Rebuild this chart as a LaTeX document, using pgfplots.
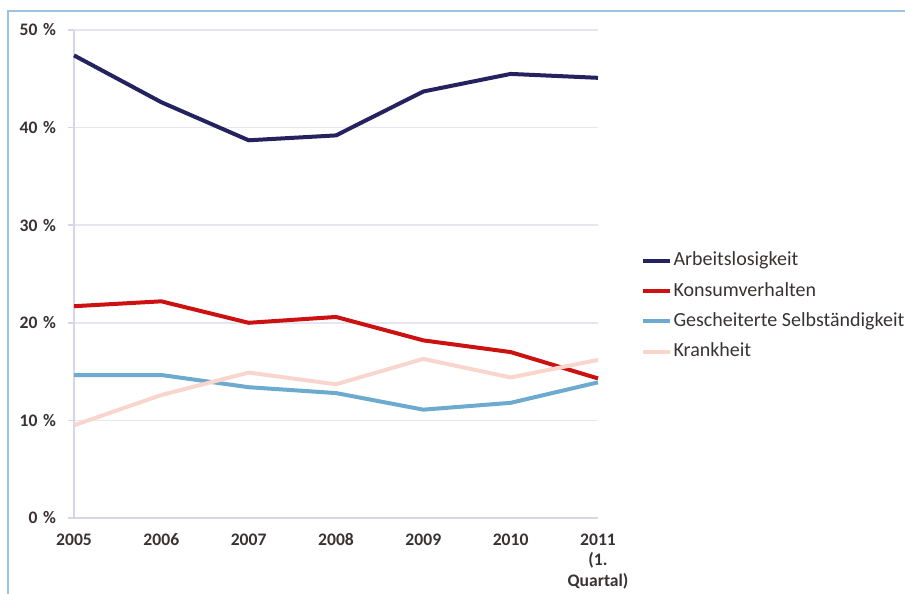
\documentclass[border=0pt]{standalone}
\usepackage{fontspec}
\setmainfont{Carlito}
\usepackage{pgfplots}
\pgfplotsset{compat=1.18}
\definecolor{navy}{HTML}{25235F}
\definecolor{rred}{HTML}{CC1111}
\definecolor{lblue}{HTML}{6CAAD0}
\definecolor{pink}{HTML}{F8D6CE}
\definecolor{gridc}{HTML}{E6E6F3}
\definecolor{axisc}{HTML}{D6D6E8}
\definecolor{framec}{HTML}{9CC4E0}
\definecolor{txt}{HTML}{3A3232}
\begin{document}
\begin{tikzpicture}
\useasboundingbox (0,0) rectangle (452.5pt,297pt);
\draw[framec, line width=1.3pt] (4pt,-10pt) -- (4pt,291.5pt) -- (470pt,291.5pt);
\begin{axis}[
  at={(37pt,38pt)}, anchor=south west,
  scale only axis, width=262pt, height=244pt,
  xmin=0, xmax=6, ymin=0, ymax=50,
  xtick={0,...,6},
  xticklabels={2005,2006,2007,2008,2009,2010,{2011\\(1.\\Quartal)}},
  ytick={0,10,...,50},
  yticklabel={\pgfmathprintnumber[assume math mode=true]{\tick}\hspace{2.8pt}\%},
  axis x line*=bottom, axis y line*=left,
  axis line style={axisc, line width=0.8pt, -},
  ymajorgrids, grid style={gridc, line width=0.8pt},
  major tick length=3pt,
  xtick style={draw=none},
  ytick style={axisc, line width=0.8pt},
  tick align=outside,
  ticklabel style={font=\fontsize{8.8}{10.25}\selectfont\bfseries, text=txt},
  xticklabel style={align=center, anchor=north, yshift=0pt},
  typeset ticklabels with strut,
  yticklabel style={xshift=-2.5pt},
  every axis plot/.append style={line width=2pt, line join=round, no markers},
  legend style={at={(1.0706,0.434)}, anchor=west, draw=none, fill=none,
    font=\fontsize{10}{10.3}\selectfont, text=txt,
    row sep=5pt,
    nodes={text height=7pt, text depth=2pt, inner sep=0.6pt}},
  legend cell align=left,
  legend image code/.code={\draw[#1, line width=2pt] (0pt,0pt) -- (13.5pt,0pt);},
  clip=false,
]
\addplot[navy] coordinates {(0,47.4) (1,42.6) (2,38.7) (3,39.2) (4,43.7) (5,45.5) (6,45.1)};
\addlegendentry{Arbeitslosigkeit}
\addplot[rred] coordinates {(0,21.7) (1,22.2) (2,20.0) (3,20.6) (4,18.2) (5,17.0) (6,14.3)};
\addlegendentry{Konsumverhalten}
\addplot[lblue] coordinates {(0,14.65) (1,14.65) (2,13.4) (3,12.8) (4,11.1) (5,11.8) (6,13.9)};
\addlegendentry{Gescheiterte Selbständigkeit}
\addplot[pink] coordinates {(0,9.5) (1,12.6) (2,14.9) (3,13.7) (4,16.3) (5,14.4) (6,16.2)};
\addlegendentry{Krankheit}
\end{axis}
\end{tikzpicture}
\end{document}
